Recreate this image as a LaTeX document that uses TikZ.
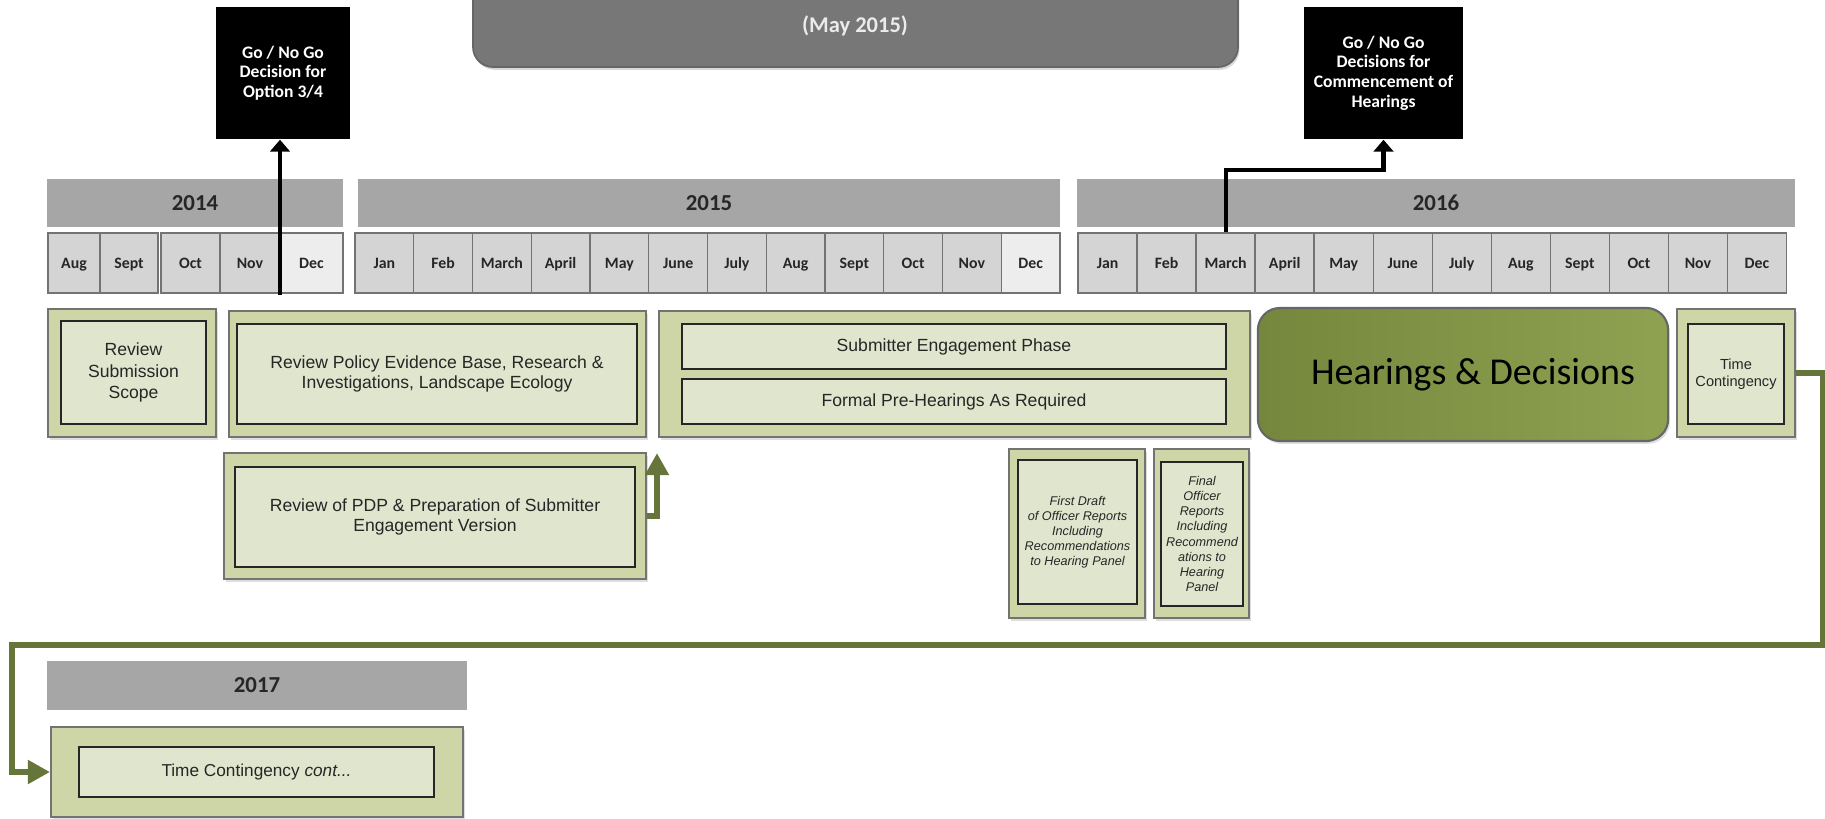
\documentclass[tikz,border=0pt]{standalone}
\usepackage{fontspec}
\setmainfont{Carlito}
\newfontfamily\arial{Liberation Sans}
\usetikzlibrary{arrows.meta,shadows}

\definecolor{yeargray}{HTML}{A6A6A6}
\definecolor{monthgray}{HTML}{D4D4D4}
\definecolor{monthlite}{HTML}{EDEDED}
\definecolor{olivebg}{HTML}{CED6A8}
\definecolor{olivein}{HTML}{E0E5CD}
\definecolor{olivedark}{HTML}{66763A}
\definecolor{hearleft}{HTML}{74873C}
\definecolor{hearright}{HTML}{8FA252}
\definecolor{titlegray}{HTML}{777777}

\begin{document}
\begin{tikzpicture}[x=0.01cm, y=-0.01cm,
  outerbox/.style={draw=black!55, fill=olivebg, line width=0.5pt, inner sep=0pt,
    drop shadow={shadow xshift=0.5pt, shadow yshift=-0.8pt, fill=black!25, opacity=0.5}},
  innerbox/.style={draw=black!85, fill=olivein, line width=0.7pt, inner sep=1pt, align=center,
    text=black!85, font=\arial\fontsize{5pt}{5.8pt}\selectfont},
  smallnote/.style={innerbox, font=\arial\itshape\fontsize{3.6pt}{4.3pt}\selectfont},
  yearbar/.style={fill=yeargray, inner sep=0pt, minimum height=0.48cm, text=black!85,
    font=\bfseries\fontsize{6.5pt}{7pt}\selectfont},
  month/.style={draw=black!55, line width=0.4pt, inner sep=0pt, minimum height=0.6cm, text=black!85,
    text height=4.3pt, text depth=0.9pt, font=\bfseries\fontsize{4.5pt}{5pt}\selectfont},
  gobox/.style={fill=black, text=white, inner sep=0pt, align=center, minimum height=1.32cm,
    font=\bfseries\fontsize{5pt}{5.6pt}\selectfont},
  decide/.style={line width=1.2pt, -{Triangle[length=3.4pt, width=5.6pt]}},
  flow/.style={draw=olivedark, line width=1.9pt, -{Triangle[length=6.3pt, width=6.5pt]}}]

\useasboundingbox (0,0) rectangle (1825,818);
\fill[white] (0,0) rectangle (1825,818);

% title block, cut at the top
\draw[fill=titlegray, draw=black!60, line width=0.5pt, rounded corners=0.2cm,
  drop shadow={shadow xshift=0.4pt, shadow yshift=-0.8pt, fill=black!30, opacity=0.5}] (473,-40) rectangle (1238,67);
\node[text=white!92!black, font=\bfseries\fontsize{6.4pt}{7pt}\selectfont] (date) at (855,25.5) {(May 2015)};

% years
\node[yearbar, minimum width=2.96cm] (y14) at (195,203) {2014};
\node[yearbar, minimum width=7.02cm] (y15) at (709,203) {2015};
\node[yearbar, minimum width=7.18cm] (y16) at (1436,203) {2016};
\node[yearbar, minimum width=4.2cm, minimum height=0.49cm] (y17) at (257,685.5) {2017};

% months
\foreach \m/\cx/\w/\c [count=\i] in {Aug/74/0.52/monthgray, Sept/129/0.58/monthgray, Oct/190.5/0.59/monthgray,
    Nov/250/0.6/monthgray, Dec/311.5/0.63/monthlite}
  \node[month, fill=\c, minimum width=\w cm] (m14-\i) at (\cx,263) {\m};
\foreach \m/\c [count=\i] in {Jan/monthgray, Feb/monthgray, March/monthgray, April/monthgray, May/monthgray,
    June/monthgray, July/monthgray, Aug/monthgray, Sept/monthgray, Oct/monthgray, Nov/monthgray, Dec/monthlite}
  \node[month, fill=\c, minimum width=0.5875cm] (m15-\i) at ({355+58.75*(\i-0.5)},263) {\m};
\foreach \m [count=\i] in {Jan, Feb, March, April, May, June, July, Aug, Sept, Oct, Nov, Dec}
  \node[month, fill=monthgray, minimum width=0.5904cm] (m16-\i) at ({1078+59.04*(\i-0.5)},263) {\m};

% go / no go decisions
\node[gobox, minimum width=1.34cm] (go1) at (283,73) {Go / No Go\\Decision for\\Option 3/4};
\node[gobox, minimum width=1.59cm] (go2) at (1383.5,73) {Go / No Go\\Decisions for\\Commencement of\\Hearings};
\coordinate (a1) at (280,295);
\draw[decide] (a1) -- (a1 |- go1.south);
\draw[decide] (m16-3.north) -- ++(0,-62) -| (go2.south);

% work stages
\node[outerbox, minimum width=1.68cm, minimum height=1.28cm] (scope-o) at (132,373) {};
\node[innerbox, minimum width=1.45cm, minimum height=1.03cm, font=\arial\fontsize{5pt}{6pt}\selectfont] (scope) at (133.5,372.5) {Review\\Submission\\Scope};

\node[outerbox, minimum width=4.17cm, minimum height=1.26cm] (policy-o) at (437.5,374) {};
\node[innerbox, minimum width=4cm, minimum height=1cm] (policy) at (437,374) {Review Policy Evidence Base, Research \&\\Investigations, Landscape Ecology};

\node[outerbox, minimum width=4.22cm, minimum height=1.26cm] (pdp-o) at (435,516) {};
\node[innerbox, minimum width=4cm, minimum height=1cm] (pdp) at (435,517) {Review of PDP \& Preparation of Submitter\\Engagement Version};

\node[outerbox, minimum width=5.91cm, minimum height=1.26cm] (sub-o) at (954.5,374) {};
\node[innerbox, minimum width=5.44cm, minimum height=0.45cm] (sub) at (954,346.5) {Submitter Engagement Phase};
\node[innerbox, minimum width=5.44cm, minimum height=0.45cm] (pre) at (954,401.5) {Formal Pre-Hearings As Required};

\node[draw=black!60, line width=0.6pt, rounded corners=0.22cm, left color=hearleft, right color=hearright,
  minimum width=4.1cm, minimum height=1.33cm, font=\fontsize{10.8pt}{12pt}\selectfont,
  drop shadow={shadow xshift=0.5pt, shadow yshift=-0.8pt, fill=black!25, opacity=0.5}] (hear) at (1463,374.5) {\hspace*{0.2cm}Hearings \& Decisions};

\node[outerbox, minimum width=1.18cm, minimum height=1.28cm] (tc-o) at (1736,373) {};
\node[innerbox, minimum width=0.96cm, minimum height=1cm, font=\arial\fontsize{4.15pt}{4.8pt}\selectfont] (tc) at (1736,374) {Time\\Contingency};

\node[outerbox, minimum width=1.36cm, minimum height=1.69cm] (draft-o) at (1077,533.5) {};
\node[smallnote, minimum width=1.19cm, minimum height=1.44cm] (draft) at (1077.5,532) {First Draft\\of Officer Reports\\Including\\Recommendations\\to Hearing Panel};

\node[outerbox, minimum width=0.95cm, minimum height=1.69cm] (final-o) at (1201.5,533.5) {};
\node[smallnote, minimum width=0.82cm, minimum height=1.44cm] (final) at (1202,534) {Final\\Officer\\Reports\\Including\\Recommend\\ations to\\Hearing\\Panel};

\node[outerbox, minimum width=4.12cm, minimum height=0.9cm] (tcc-o) at (257,772) {};
\node[innerbox, minimum width=3.55cm, minimum height=0.5cm, font=\arial\fontsize{4.9pt}{5.6pt}\selectfont] (tcc) at (256.5,772) {Time Contingency \textit{cont...}};

% links
\draw[flow, shorten >=4.3pt] (pdp-o.east) -- ++(10,0) coordinate (k1) -- (k1 |- sub-o.south);
\draw[flow] (tc-o.east) -| (1823,645) -| (12,772) -- (tcc-o.west);
\end{tikzpicture}
\end{document}
